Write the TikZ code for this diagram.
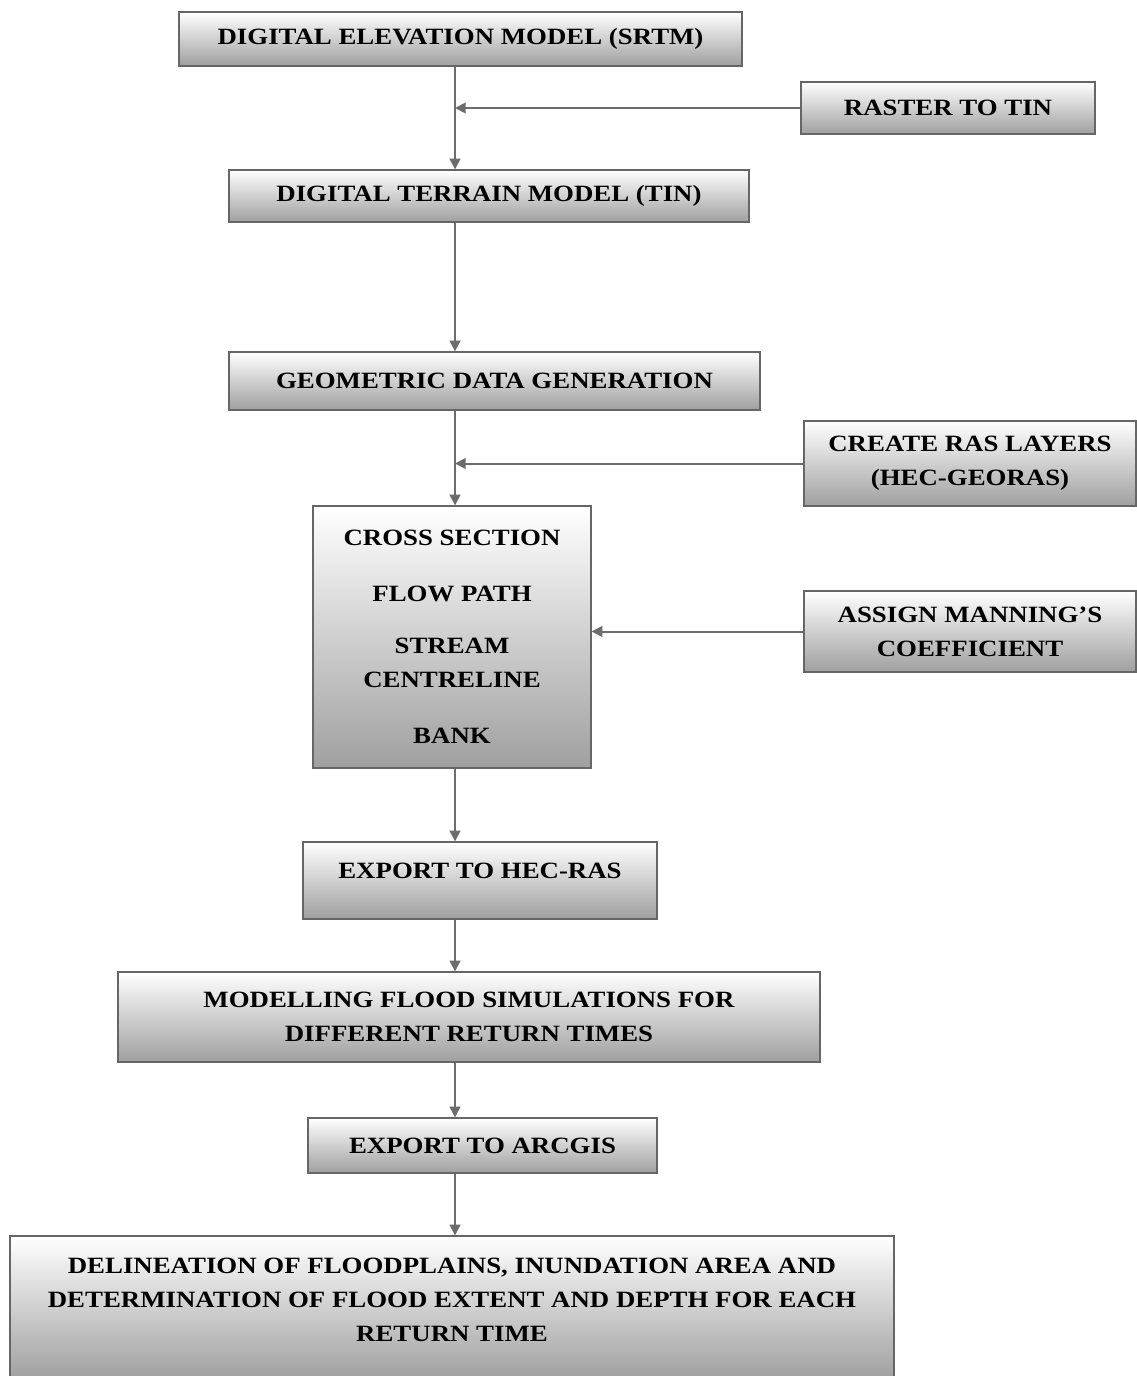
\documentclass[tikz,border=0pt]{standalone}
\usepackage{fontspec}
\setmainfont{Liberation Serif}[FakeStretch=1.15]
\usetikzlibrary{arrows.meta,calc}

\begin{document}
\begin{tikzpicture}[x=0.75pt,y=-0.75pt,
  stage/.style 2 args={draw=gray!80!black,line width=0.9pt,top color=white,bottom color=gray!75,
    minimum width=#1*0.75pt,minimum height=#2*0.75pt,inner sep=0pt,align=center,
    font=\bfseries\fontsize{17.5}{25.5}\selectfont},
  flow/.style={draw=gray!85!black,line width=1.5pt,-{Triangle[length=8pt,width=8pt]}}]
\useasboundingbox (0,0) rectangle (1136,1376);
\coordinate (trunk) at (455,0);
% main chain
\node[stage={563}{54}] (dem) at (460.5,39) {DIGITAL ELEVATION MODEL (SRTM)};
\node[stage={520}{52}] (dtm) at (489,196) {DIGITAL TERRAIN MODEL (TIN)};
\node[stage={531}{58}] (geo) at (494.5,381) {GEOMETRIC DATA GENERATION};
\node[stage={278}{262}] (xsec) at (452,637) {CROSS SECTION\\[16.5pt]FLOW PATH\\[13.5pt]STREAM\\CENTRELINE\\[16.5pt]BANK};
\node[stage={354}{77},text depth=15pt] (hecras) at (480,880.5) {EXPORT TO HEC-RAS};
\node[stage={702}{90}] (model) at (469,1017) {MODELLING FLOOD SIMULATIONS FOR\\DIFFERENT RETURN TIMES};
\node[stage={349}{55}] (arcgis) at (482.5,1145.5) {EXPORT TO ARCGIS};
\node[stage={884}{144},text depth=12pt] (flood) at (452,1308) {DELINEATION OF FLOODPLAINS, INUNDATION AREA AND\\DETERMINATION OF FLOOD EXTENT AND DEPTH FOR EACH\\RETURN TIME};
% side inputs
\node[stage={294}{52}] (tin) at (948,108) {RASTER TO TIN};
\node[stage={332}{85}] (layers) at (970,463.5) {CREATE RAS LAYERS\\(HEC-GEORAS)};
\node[stage={332}{81}] (manning) at (970,631.5) {ASSIGN MANNING'S\\COEFFICIENT};
% connectors
\draw[flow] (dem.south -| trunk) -- (dtm.north -| trunk);
\draw[flow] (dtm.south -| trunk) -- (geo.north -| trunk);
\draw[flow] (geo.south -| trunk) -- (xsec.north -| trunk);
\draw[flow] (xsec.south -| trunk) -- (hecras.north -| trunk);
\draw[flow] (hecras.south -| trunk) -- (model.north -| trunk);
\draw[flow] (model.south -| trunk) -- (arcgis.north -| trunk);
\draw[flow] (arcgis.south -| trunk) -- (flood.north -| trunk);
\draw[flow] (tin.west) -- (tin.west -| trunk);
\draw[flow] (layers.west) -- (layers.west -| trunk);
\draw[flow] (manning.west) -- (manning.west -| xsec.east);
\end{tikzpicture}
\end{document}
